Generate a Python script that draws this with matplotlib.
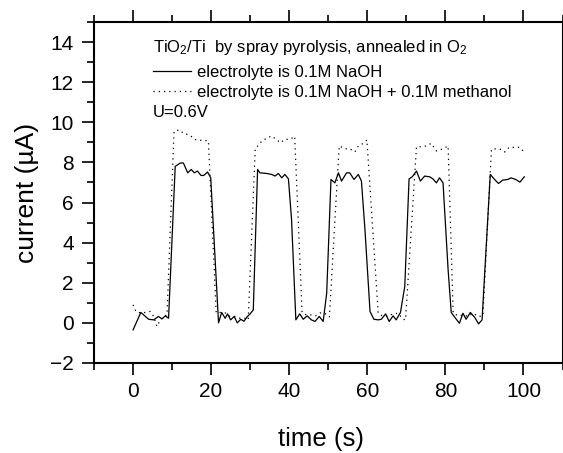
import matplotlib
matplotlib.use("Agg")
import matplotlib.pyplot as plt
from matplotlib.ticker import MultipleLocator

plt.rcParams['font.family'] = ['Liberation Sans', 'DejaVu Sans']
plt.rcParams['mathtext.fontset'] = 'custom'
plt.rcParams['mathtext.rm'] = 'Liberation Sans'
plt.rcParams['mathtext.it'] = 'Liberation Sans:italic'

# --- data: electrolyte is 0.1M NaOH (solid) ---
t_naoh = [0.0, 2.0, 4.0, 5.3, 6.5, 7.4, 8.3, 9.1,
          10.8, 12.1, 12.9, 14.0, 14.9, 15.7, 16.5, 17.4, 18.1, 19.1, 19.9,
          21.9, 22.7, 23.6, 24.2, 25.0, 25.9, 26.7, 27.6, 28.4, 29.3, 30.0, 30.8,
          31.9, 32.5, 34.2, 35.5, 36.4, 37.2, 38.1, 38.9, 39.8, 40.6,
          41.7, 42.7, 43.6, 44.6, 45.7, 46.6, 47.7, 48.7, 49.6,
          50.7, 51.7, 52.6, 53.4, 54.7, 55.5, 56.6, 57.7, 58.5, 59.4,
          60.7, 61.7, 62.8, 63.6, 64.7, 65.6, 66.6, 67.4, 68.5, 69.6,
          70.7, 71.5, 72.6, 73.6, 74.7, 76.0, 76.8, 77.7, 78.5, 79.4, 80.7,
          81.5, 82.6, 83.6, 84.5, 85.3, 86.4, 87.5, 88.5, 89.4,
          91.5, 92.6, 93.6, 94.7, 96.0, 96.8, 98.0, 99.1, 100.2]
i_naoh = [-0.35, 0.52, 0.18, 0.15, 0.32, 0.20, 0.35, 0.23,
          7.80, 7.97, 7.97, 7.48, 7.65, 7.48, 7.57, 7.35, 7.35, 7.52, 7.23,
          0.00, 0.52, 0.23, 0.45, 0.15, 0.32, 0.00, 0.18, 0.08, 0.32, 0.45, 0.65,
          7.65, 7.48, 7.45, 7.40, 7.32, 7.45, 7.23, 7.40, 7.18, 5.15,
          0.15, 0.45, 0.18, 0.35, 0.15, 0.07, 0.32, 0.07, 1.48,
          7.15, 6.98, 7.48, 7.07, 7.48, 7.48, 7.15, 7.40, 7.07, 4.65,
          0.57, 0.18, 0.15, 0.18, 0.45, 0.07, 0.35, 0.15, 0.52, 1.82,
          7.18, 7.28, 7.57, 7.07, 7.32, 7.28, 7.18, 6.98, 7.23, 6.98, 2.65,
          0.52, 0.23, -0.02, 0.48, 0.18, 0.52, 0.28, -0.05, 0.15,
          7.40, 7.15, 6.95, 7.12, 7.15, 7.23, 7.15, 7.02, 7.28]

# --- data: electrolyte is 0.1M NaOH + 0.1M methanol (dotted) ---
t_meoh = [0.0, 0.8, 2.0, 3.1, 4.4, 5.3, 6.1, 7.0, 7.8, 8.7,
          10.5, 11.9, 12.9, 13.8, 14.8, 15.7, 16.8, 18.1, 19.3,
          21.3, 22.3, 23.6, 24.9, 26.1, 27.4, 28.7, 29.5,
          31.3, 32.1, 33.0, 34.2, 35.5, 36.6, 37.8, 38.9, 40.2, 41.4,
          43.3, 44.4, 45.5, 46.7, 48.0, 49.3, 50.3,
          52.8, 54.3, 55.5, 56.8, 57.7, 59.0, 59.9,
          62.8, 64.1, 65.4, 66.6, 67.9, 69.2, 69.8,
          72.6, 73.8, 75.1, 76.4, 77.7, 79.4, 80.7,
          82.0, 83.3, 84.6, 85.8, 87.1, 88.4, 89.6,
          91.8, 93.0, 94.3, 95.2, 96.3, 97.7, 99.0, 100.2]
i_meoh = [0.90, 0.55, 0.50, 0.52, 0.57, 0.32, -0.18, 0.15, 0.32, 0.40,
          9.55, 9.62, 9.45, 9.40, 9.32, 9.15, 9.10, 9.10, 9.07,
          0.50, 0.52, 0.50, 0.32, 0.32, 0.23, 0.23, 0.15,
          8.70, 8.85, 9.07, 9.20, 9.32, 9.15, 8.98, 9.15, 9.15, 9.30,
          0.50, 0.40, 0.40, 0.35, 0.50, 0.45, 0.30,
          8.82, 8.68, 8.68, 8.52, 8.82, 8.95, 9.12,
          0.48, 0.32, 0.35, 0.45, 0.48, 0.18, 0.15,
          8.78, 8.78, 8.82, 8.95, 8.57, 8.68, 8.82,
          0.48, 0.35, 0.40, 0.32, 0.48, 0.32, 0.35,
          8.65, 8.68, 8.65, 8.52, 8.75, 8.75, 8.75, 8.52]

label_naoh = "electrolyte is 0.1M NaOH"
label_meoh = "electrolyte is 0.1M NaOH + 0.1M methanol"
title_text = r"TiO$_2$/Ti  by spray pyrolysis, annealed in O$_2$"
voltage_text = "U=0.6V"
x_ticks = [0, 20, 40, 60, 80, 100]
y_ticks = [-2, 0, 2, 4, 6, 8, 10, 12, 14]

fig = plt.figure(figsize=(5.63, 4.53), dpi=100)
W, H = 563, 453
ax = fig.add_axes([94 / W, (H - 363) / H, (562.5 - 94) / W, (363 - 22) / H])

l1, = ax.plot(t_naoh, i_naoh, color='black', lw=0.9, linestyle='-')
l2, = ax.plot(t_meoh, i_meoh, color='black', lw=0.9, linestyle=(0, (1, 3.2)))

ax.set_xlim(-10, 110)
ax.set_ylim(-2, 15)
ax.set_xticks(x_ticks)
ax.set_yticks(y_ticks)
ax.xaxis.set_minor_locator(MultipleLocator(10))
ax.yaxis.set_minor_locator(MultipleLocator(1))

for s in ax.spines.values():
    s.set_linewidth(1.5)
ax.tick_params(which='both', direction='out', top=True, right=True,
               labeltop=False, labelright=False, width=1.2, labelsize=15)
ax.tick_params(which='major', length=8.5)
ax.tick_params(which='minor', length=5)
ax.tick_params(axis='x', pad=5)
ax.tick_params(axis='y', pad=6)

ax.set_xlabel("time (s)", fontsize=18.5, labelpad=19)
ax.xaxis.label.set_x(0.484)
ax.set_ylabel("current (\u00b5A)", fontsize=19, labelpad=8)

ax.text(0.1253, 0.9129, title_text, transform=ax.transAxes, fontsize=12,
        ha='left', va='baseline')
ax.legend([l1, l2], [label_naoh, label_meoh], loc='upper left',
          bbox_to_anchor=(0.1253, 0.874), frameon=False, fontsize=12,
          handlelength=2.3, handletextpad=0.35, labelspacing=0.28,
          borderpad=0, borderaxespad=0)
ax.text(0.1253, 0.7223, voltage_text, transform=ax.transAxes, fontsize=12,
        ha='left', va='baseline')

fig.savefig("out.png", dpi=100)
